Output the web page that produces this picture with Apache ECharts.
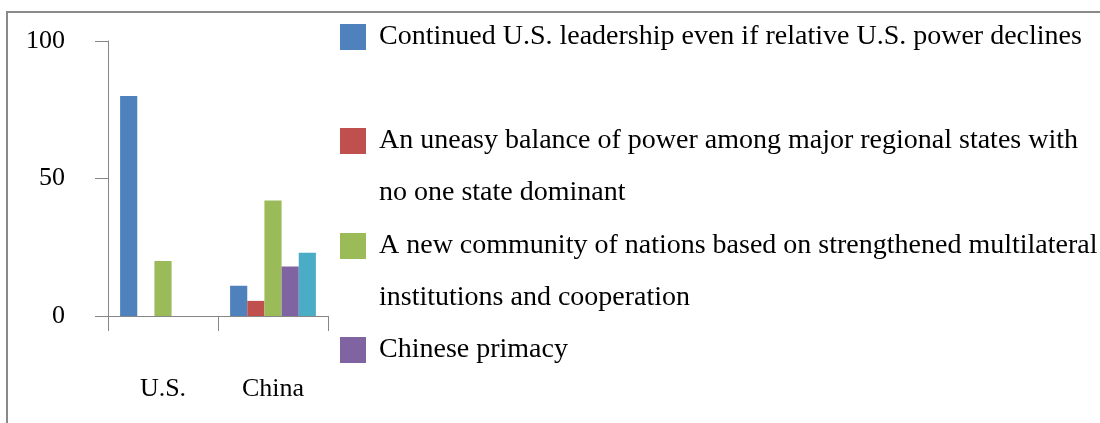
<!DOCTYPE html>
<html>
<head>
<meta charset="utf-8">
<style>
  html, body { margin: 0; padding: 0; background: #fff; }
  #chart { width: 1100px; height: 423px; }
</style>
<script src="https://cdn.jsdelivr.net/npm/echarts@6/dist/echarts.min.js"></script>
</head>
<body>
<div id="chart"></div>
<script>
// Preferred future for Asia, by respondent country (%)
const categories = ['U.S.', 'China'];
const leadership = [80, 11];
const balance = [0, 5.5];
const community = [20, 42];
const primacy = [0, 18];
const other = [0, 23];
const yTicks = [0, 50, 100];

const seriesNames = [
  'Continued U.S. leadership even if relative U.S. power declines',
  'An uneasy balance of power among major regional states with no one state dominant',
  'A new community of nations based on strengthened multilateral institutions and cooperation',
  'Chinese primacy',
  'Other'
];
// legend text as wrapped lines
const legendLines = [
  ['Continued U.S. leadership even if relative U.S. power declines'],
  ['An uneasy balance of power among major regional states with', 'no one state dominant'],
  ['A new community of nations based on strengthened multilateral', 'institutions and cooperation'],
  ['Chinese primacy']
];
const colors = ['#4F81BD', '#C0504D', '#9BBB59', '#8064A2', '#4BACC6'];
const values = [leadership, balance, community, primacy, other];

const FONT = 'Liberation Serif';
const LINE = 52;
// legend text is centred on its swatch; wrapped entries get an empty
// leading line so that the swatch sits beside the first line of text
const legendTops = [11, 63, 168, 324];

const legends = legendLines.map((lines, i) => ({
  data: [seriesNames[i]],
  orient: 'vertical',
  left: 340,
  top: legendTops[i],
  padding: 0,
  icon: 'rect',
  itemWidth: 26,
  itemHeight: 26,
  selectedMode: false,
  formatter: () => (lines.length > 1 ? '\u00a0\n' : '') + lines.join('\n'),
  textStyle: {
    fontFamily: FONT,
    fontSize: 28,
    color: '#000',
    lineHeight: LINE,
    padding: [0, 0, 0, 8]
  }
}));

const chart = echarts.init(document.getElementById('chart'), null, { renderer: 'canvas' });
chart.setOption({
  animation: false,
  backgroundColor: '#fff',
  color: colors,
  graphic: [{
    type: 'rect',
    silent: true,
    shape: { x: 7, y: 12, width: 1300, height: 600 },
    style: { fill: 'none', stroke: '#8a8a8a', lineWidth: 2 }
  }],
  legend: legends,
  grid: {
    left: 108, top: 41, right: 772, bottom: 107,
    outerBoundsMode: 'none'
  },
  xAxis: {
    type: 'category',
    data: categories,
    axisLine: { lineStyle: { color: '#868686', width: 1 } },
    axisTick: { show: true, length: 15, lineStyle: { color: '#868686' } },
    axisLabel: { margin: 60, fontFamily: FONT, fontSize: 26, color: '#000' }
  },
  yAxis: {
    type: 'value',
    min: yTicks[0],
    max: yTicks[yTicks.length - 1],
    interval: yTicks[1] - yTicks[0],
    splitLine: { show: false },
    axisLine: { show: true, lineStyle: { color: '#868686', width: 1 } },
    axisTick: { show: true, length: 13, lineStyle: { color: '#868686' } },
    axisLabel: { margin: 43, fontFamily: FONT, fontSize: 26, color: '#000' }
  },
  series: values.map((v, i) => ({
    type: 'bar',
    name: seriesNames[i],
    data: v,
    barGap: '0%',
    barCategoryGap: '22%',
    itemStyle: { color: colors[i] }
  }))
});
</script>
</body>
</html>
